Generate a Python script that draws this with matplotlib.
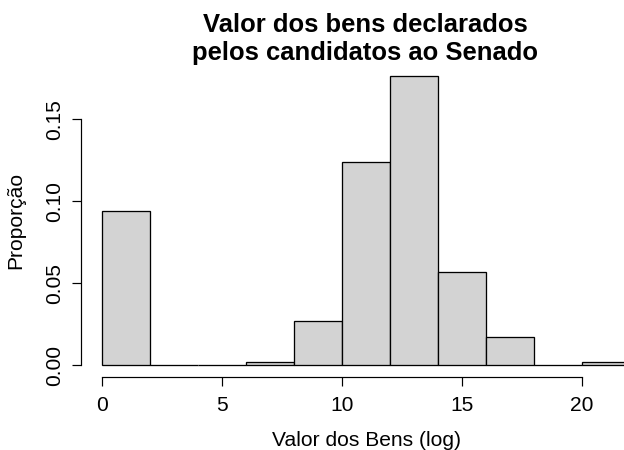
import matplotlib
matplotlib.use("Agg")
import matplotlib.pyplot as plt

breaks = [0, 2, 4, 6, 8, 10, 12, 14, 16, 18, 20, 22]
density = [0.0943, 0.0, 0.0, 0.0022, 0.0272, 0.1241, 0.1766, 0.0571, 0.0174, 0.0, 0.0022]
xticks = [0, 5, 10, 15, 20]
yticks = [0.00, 0.05, 0.10, 0.15]
ytick_labels = ["0.00", "0.05", "0.10", "0.15"]
title_lines = ["Valor dos bens declarados", "pelos candidatos ao Senado"]
xlabel = "Valor dos Bens (log)"
ylabel = "Proporção"

plt.rcParams['font.family'] = ['Liberation Sans', 'DejaVu Sans']

W, H = 624, 450
BASE = 21.0
fig = plt.figure(figsize=(W / 72, H / 72), dpi=72)
left_px, right_px, top_px, bottom_px = 80.6, 650.8, 64.0, 376.9
ax = fig.add_axes([left_px / W, 1 - bottom_px / H,
                   (right_px - left_px) / W, (bottom_px - top_px) / H])

lefts = breaks[:-1]
widths = [b - a for a, b in zip(breaks[:-1], breaks[1:])]
ax.bar(lefts, density, width=widths, align='edge', color='#D3D3D3',
       edgecolor='black', linewidth=1.3, clip_on=False)

x0, x1 = breaks[0], breaks[-1]
xpad = 0.04 * (x1 - x0)
ax.set_xlim(x0 - xpad, x1 + xpad)
ymax = max(density)
ax.set_ylim(-0.04 * ymax, ymax * 1.04)

for s in ax.spines.values():
    s.set_visible(False)
ax.patch.set_visible(False)

ax.spines['left'].set_visible(True)
ax.spines['left'].set_bounds(yticks[0], yticks[-1])
ax.spines['bottom'].set_visible(True)
ax.spines['bottom'].set_bounds(xticks[0], xticks[-1])
ax.spines['left'].set_linewidth(1.2)
ax.spines['bottom'].set_linewidth(1.2)

ax.set_xticks(xticks)
ax.set_xticklabels([str(t) for t in xticks])
ax.set_yticks(yticks)
ax.set_yticklabels(ytick_labels)
ax.tick_params(axis='both', direction='out', length=9.3, width=1.2,
               labelsize=BASE, colors='black')
ax.tick_params(axis='x', pad=24.5)
ax.tick_params(axis='y', pad=11.0)
for lab in ax.get_xticklabels():
    lab.set_va('baseline')
for lab in ax.get_yticklabels():
    lab.set_rotation(90)
    lab.set_rotation_mode('anchor')
    lab.set_ha('center')
    lab.set_va('baseline')

cx = 365.0 / W
fig.text(cx, 1 - 31.7 / H, title_lines[0], ha='center', va='baseline',
         fontsize=BASE * 1.22, fontweight='bold')
fig.text(cx, 1 - 60.0 / H, title_lines[1], ha='center', va='baseline',
         fontsize=BASE * 1.22, fontweight='bold')
fig.text(366 / W, 1 - 445.7 / H, xlabel, ha='center', va='baseline', fontsize=BASE)
fig.text(21.7 / W, 1 - 220.5 / H, ylabel, ha='center', va='baseline', fontsize=BASE,
         rotation=90, rotation_mode='anchor')

fig.savefig("out.png", dpi=72)
